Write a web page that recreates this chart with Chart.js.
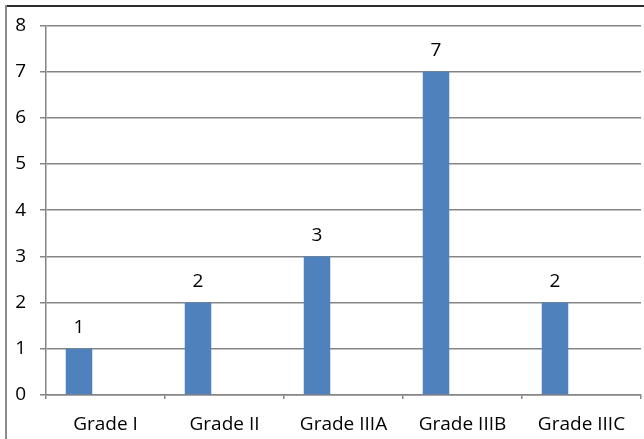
<!DOCTYPE html>
<html>
<head>
<meta charset="utf-8">
<script src="https://cdn.jsdelivr.net/npm/chart.js@4"></script>
<style>
    html, body { margin: 0; padding: 0; background: #fff; }
    #wrap { width: 644px; height: 439px; position: relative; }
</style>
</head>
<body>
<div id="wrap"><canvas id="grade-chart"></canvas></div>
<script>
// 数据
const grades = ['Grade I', 'Grade II', 'Grade IIIA', 'Grade IIIB', 'Grade IIIC'];
const counts = [1, 2, 3, 7, 2];
// empty series, Excel left room for them in each group
const emptySeries = [null, null, null, null, null];
const yTicks = [0, 1, 2, 3, 4, 5, 6, 7, 8];

const FONT = "'Open Sans', 'DejaVu Sans', sans-serif";

// 边框 (top + left only, like the cropped original)
const framePlugin = {
    id: 'frame',
    beforeDraw(chart) {
        const ctx = chart.ctx;
        ctx.save();
        ctx.fillStyle = '#fff';
        ctx.fillRect(0, 0, chart.width, chart.height);
        ctx.lineWidth = 2;
        ctx.strokeStyle = '#2b2b2b';
        ctx.beginPath();
        ctx.moveTo(5, 6);
        ctx.lineTo(chart.width, 6);
        ctx.stroke();
        ctx.strokeStyle = '#8a8a8a';
        ctx.beginPath();
        ctx.moveTo(6, 5);
        ctx.lineTo(6, chart.height);
        ctx.stroke();
        ctx.restore();
    }
};

// 数值标签
const valueLabels = {
    id: 'valueLabels',
    afterDatasetsDraw(chart) {
        const ctx = chart.ctx;
        const meta = chart.getDatasetMeta(0);
        ctx.save();
        ctx.font = '19px ' + FONT;
        ctx.fillStyle = '#000';
        ctx.textAlign = 'center';
        ctx.textBaseline = 'middle';
        meta.data.forEach(function(bar, i) {
            ctx.fillText(String(counts[i]), bar.x, bar.y - 21);
        });
        ctx.restore();
    }
};

new Chart(document.getElementById('grade-chart'), {
    type: 'bar',
    data: {
        labels: grades,
        datasets: [
            { data: counts, backgroundColor: '#4f81bd' },
            { data: emptySeries, backgroundColor: '#c0504d' },
            { data: emptySeries, backgroundColor: '#9bbb59' }
        ]
    },
    options: {
        responsive: true,
        maintainAspectRatio: false,
        animation: false,
        categoryPercentage: 0.668,
        barPercentage: 1,
        layout: { padding: { top: 24, right: 3, left: 0, bottom: 0 } },
        plugins: {
            legend: { display: false },
            tooltip: { enabled: false }
        },
        scales: {
            x: {
                afterFit: function(axis) { axis.height = 44; },
                grid: {
                    offset: true,
                    drawOnChartArea: false,
                    drawTicks: true,
                    tickLength: 4,
                    color: '#858585',
                    lineWidth: 1.5
                },
                border: { color: '#858585', width: 1.5 },
                ticks: {
                    color: '#000',
                    padding: 14,
                    font: { family: FONT, size: 19 }
                }
            },
            y: {
                min: 0,
                max: 8,
                afterFit: function(axis) { axis.width = 46; },
                afterBuildTicks: function(axis) {
                    axis.ticks = yTicks.map(function(v) { return { value: v }; });
                },
                grid: {
                    color: '#858585',
                    lineWidth: 1.5,
                    tickLength: 6
                },
                border: { color: '#858585', width: 1.5 },
                ticks: {
                    color: '#000',
                    padding: 14,
                    font: { family: FONT, size: 19 }
                }
            }
        }
    },
    plugins: [framePlugin, valueLabels]
});
</script>
</body>
</html>
